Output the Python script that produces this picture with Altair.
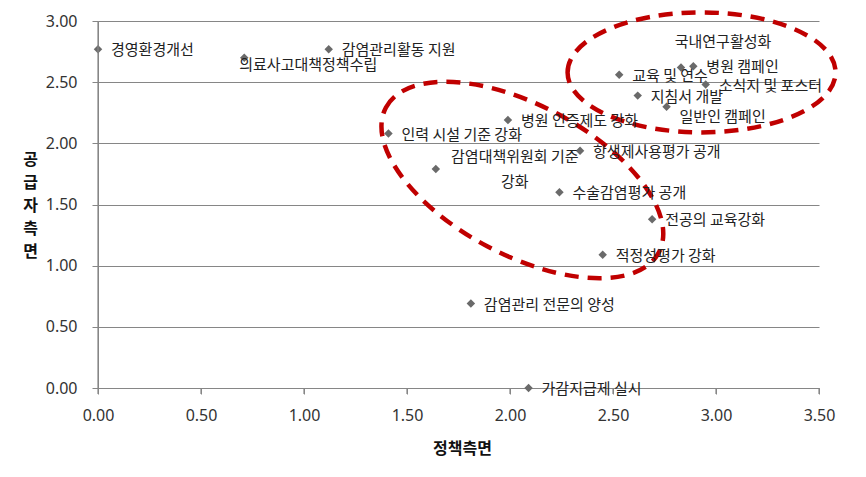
import altair as alt
import pandas as pd

# ---- data ----
labels = [
    "경영환경개선", "의료사고대책정책수립", "감염관리활동 지원", "인력 시설 기준 강화",
    "병원 인증제도 강화", "감염대책위원회 기준\n강화", "항생제사용평가 공개", "수술감염평가 공개",
    "전공의 교육강화", "적정성평가 강화", "감염관리 전문의 양성", "가감지급제 실시",
    "교육 및 연수", "국내연구활성화", "병원 캠페인", "소식지 및 포스터",
    "지침서 개발", "일반인 캠페인",
]
policy = [0.00, 0.71, 1.12, 1.41, 1.99, 1.64, 2.34, 2.24, 2.69, 2.45, 1.81, 2.09,
          2.53, 2.83, 2.89, 2.95, 2.62, 2.76]
supplier = [2.77, 2.70, 2.77, 2.08, 2.19, 1.79, 1.94, 1.60, 1.38, 1.09, 0.69, 0.00,
            2.56, 2.62, 2.63, 2.48, 2.39, 2.30]

x_ticks = [0.0, 0.5, 1.0, 1.5, 2.0, 2.5, 3.0, 3.5]
y_ticks = [0.0, 0.5, 1.0, 1.5, 2.0, 2.5, 3.0]

# highlighted groups (ellipse centres in data units)
group_names = ["upper", "lower"]
group_x = [2.93, 2.06]
group_y = [2.58, 1.70]

df = pd.DataFrame({"label": labels, "x": policy, "y": supplier})
gdf = pd.DataFrame({"g": group_names, "x": group_x, "y": group_y})
tick_df = pd.DataFrame({"x": x_ticks})
yaxis_df = pd.DataFrame({"x": [x_ticks[0]]})

W, H = 721, 367
FONT = "Noto Sans CJK KR"
AX = "#868686"


def ellipse_path(r):
    """Unit ellipse (x-radius 1, y-radius r) as cubic Bezier SVG path."""
    k = 0.5523
    kr = k * r
    return (f"M -1 0 C -1 {-kr} {-k} {-r} 0 {-r} "
            f"C {k} {-r} 1 {-kr} 1 0 "
            f"C 1 {kr} {k} {r} 0 {r} "
            f"C {-k} {r} -1 {kr} -1 0 Z")


xs = alt.Scale(domain=[0, 3.5], nice=False, zero=False)
ys = alt.Scale(domain=[0, 3], nice=False, zero=False)

X = alt.X("x:Q", scale=xs, axis=alt.Axis(
    values=x_ticks, format=".2f", grid=False, title="정책측면",
    titleX=364, titleY=60, titleBaseline="middle", titleFontWeight="bold",
    titleFontSize=16, titleFont=FONT, titleColor="#111",
    labelFontSize=16, labelFont="Noto Sans", labelColor="#333", labelPadding=13,
    labelFlush=False, labelOverlap=False,
    domain=True, ticks=True, tickSize=6, tickColor=AX, tickWidth=1,
    domainColor=AX, domainWidth=1,
))
Y = alt.Y("y:Q", scale=ys, axis=alt.Axis(
    values=y_ticks, format=".2f", grid=True, gridColor=AX, gridWidth=1,
    title=["공", "급", "자", "측", "면"], titleAngle=0, titleX=-68, titleY=138,
    titleAlign="center", titleBaseline="middle", titleLineHeight=23,
    titleFontWeight="bold", titleFontSize=16, titleFont=FONT, titleColor="#111",
    labelFontSize=16, labelFont="Noto Sans", labelColor="#333", labelPadding=15,
    labelFlush=False, labelOverlap=False,
    domain=True, ticks=True, tickSize=6, tickColor=AX, tickWidth=1,
    domainColor=AX, domainWidth=1,
))

points = alt.Chart(df).mark_point(
    shape="diamond", filled=True, size=72, color="#6a6a6a", opacity=1
).encode(x=X, y=Y)

# explicit axis line and tick marks (drawn from the tick values through the scale)
y_line = alt.Chart(yaxis_df).mark_rule(
    color=AX, strokeWidth=1.2, opacity=1
).encode(x="x:Q", y=alt.value(0), y2=alt.value(H))
x_tick_marks = alt.Chart(tick_df).mark_rule(
    color=AX, strokeWidth=1.2, opacity=1
).encode(x="x:Q", y=alt.value(H), y2=alt.value(H + 6))

base_text = alt.Chart(df).encode(x="x:Q", y="y:Q", text="label:N")

special = ["의료사고대책정책수립", "국내연구활성화", "일반인 캠페인", "감염대책위원회 기준\n강화"]


def txt(**kw):
    opts = dict(font=FONT, fontSize=15, color="#222", align="left", baseline="middle")
    opts.update(kw)
    return opts


txt_default = base_text.transform_filter(
    ~alt.FieldOneOfPredicate(field="label", oneOf=special)
).mark_text(**txt(dx=13, dy=1))

txt_a = base_text.transform_filter(alt.datum.label == "의료사고대책정책수립").mark_text(
    **txt(dx=-5, dy=7))
txt_b = base_text.transform_filter(alt.datum.label == "국내연구활성화").mark_text(
    **txt(align="center", dx=42, dy=-25))
txt_c = base_text.transform_filter(alt.datum.label == "일반인 캠페인").mark_text(
    **txt(dx=13, dy=10))
txt_d = base_text.transform_filter(alt.datum.label == "감염대책위원회 기준\n강화").mark_text(
    **txt(align="center", dx=79, dy=-12, lineBreak="\n", lineHeight=25))

ell_upper = alt.Chart(gdf).transform_filter(alt.datum.g == "upper").mark_point(
    shape=ellipse_path(60 / 134), size=268 * 268, filled=False, fill=None,
    stroke="#c00000", strokeWidth=4.5, strokeDash=[14, 9], opacity=1,
).encode(x="x:Q", y="y:Q")

ell_lower = alt.Chart(gdf).transform_filter(alt.datum.g == "lower").mark_point(
    shape=ellipse_path(75 / 154.5), size=309 * 309, angle=28, filled=False, fill=None,
    stroke="#c00000", strokeWidth=4.5, strokeDash=[14, 9], opacity=1,
).encode(x="x:Q", y="y:Q")

chart = alt.layer(
    points, ell_upper, ell_lower,
    txt_default, txt_a, txt_b, txt_c, txt_d, y_line, x_tick_marks,
).properties(
    width=W, height=H,
    autosize=alt.AutoSizeParams(type="none"),
    padding={"left": 98, "top": 21, "right": 47, "bottom": 89},
    background="white",
).configure_view(stroke=None)

chart.save("out.html", embed_options={"renderer": "svg", "actions": False})
